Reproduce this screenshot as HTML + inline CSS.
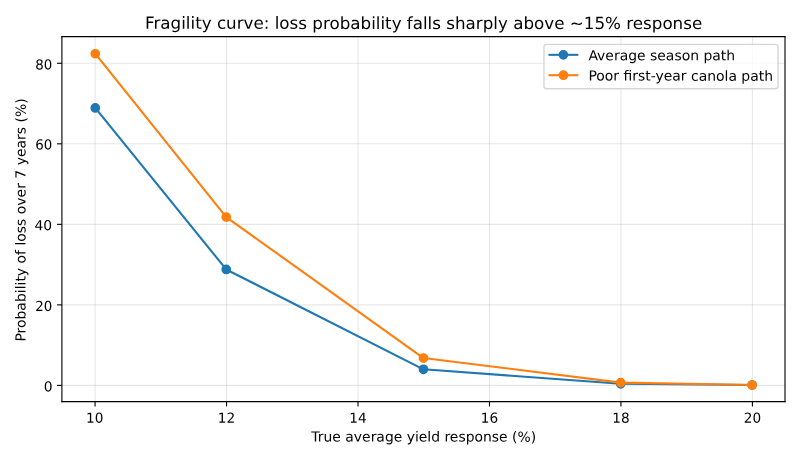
<!DOCTYPE html>
<html lang="en"><head><meta charset="utf-8"><title>Fragility curve</title>
<style>html,body{margin:0;padding:0;background:#fff;overflow:hidden}svg{display:block}</style>
</head><body>
<svg width="800" height="460" viewBox="0 0 576 331.2" role="img" aria-label="Fragility curve line chart">
 <defs>
  <style type="text/css">*{stroke-linejoin: round; stroke-linecap: butt}</style>
 </defs>
 <g id="figure_1">
  <g id="patch_1">
   <path d="M 0 331.2 
L 576 331.2 
L 576 0 
L 0 0 
z
" style="fill: #ffffff"/>
  </g>
  <g id="axes_1">
   <g id="patch_2">
    <path d="M 44.57 289.152 
L 565.2 289.152 
L 565.2 26.3736 
L 44.57 26.3736 
z
" style="fill: #ffffff"/>
   </g>
   <g id="matplotlib.axis_1" transform="translate(0.2160 0)">
    <g id="xtick_1">
     <g id="line2d_1">
      <path d="M 68.235 289.152 
L 68.235 26.3736 
" clip-path="url(#p6f39fc8fb3)" style="fill: none; stroke: #b0b0b0; stroke-opacity: 0.3; stroke-width: 0.8; stroke-linecap: square"/>
     </g>
     <g id="line2d_2">
      <defs>
       <path id="m7b24b1759d" d="M 0 0 
L 0 3.5 
" style="stroke: #000000; stroke-width: 0.8"/>
      </defs>
      <g>
       <use href="#m7b24b1759d" x="68.235" y="289.152" style="stroke: #000000; stroke-width: 0.8"/>
      </g>
     </g>
     <g id="text_1">
      <text style="font-size: 10px; font-family: 'DejaVu Sans', 'Liberation Sans', sans-serif; text-anchor: middle" x="68.019" y="304.434" transform="rotate(0.04 68.019 304.434) translate(68.019 304.434) scale(0.98 1) translate(-68.019 -304.434)">10</text>
     </g>
    </g>
    <g id="xtick_2">
     <g id="line2d_3">
      <path d="M 162.895 289.152 
L 162.895 26.3736 
" clip-path="url(#p6f39fc8fb3)" style="fill: none; stroke: #b0b0b0; stroke-opacity: 0.3; stroke-width: 0.8; stroke-linecap: square"/>
     </g>
     <g id="line2d_4">
      <g>
       <use href="#m7b24b1759d" x="162.895" y="289.152" style="stroke: #000000; stroke-width: 0.8"/>
      </g>
     </g>
     <g id="text_2">
      <text style="font-size: 10px; font-family: 'DejaVu Sans', 'Liberation Sans', sans-serif; text-anchor: middle" x="162.895" y="304.434" transform="rotate(0.04 162.895 304.434) translate(162.895 304.434) scale(0.98 1) translate(-162.895 -304.434)">12</text>
     </g>
    </g>
    <g id="xtick_3">
     <g id="line2d_5">
      <path d="M 257.555 289.152 
L 257.555 26.3736 
" clip-path="url(#p6f39fc8fb3)" style="fill: none; stroke: #b0b0b0; stroke-opacity: 0.3; stroke-width: 0.8; stroke-linecap: square"/>
     </g>
     <g id="line2d_6">
      <g>
       <use href="#m7b24b1759d" x="257.555" y="289.152" style="stroke: #000000; stroke-width: 0.8"/>
      </g>
     </g>
     <g id="text_3">
      <text style="font-size: 10px; font-family: 'DejaVu Sans', 'Liberation Sans', sans-serif; text-anchor: middle" x="257.555" y="304.434" transform="rotate(0.04 257.555 304.434) translate(257.555 304.434) scale(0.98 1) translate(-257.555 -304.434)">14</text>
     </g>
    </g>
    <g id="xtick_4">
     <g id="line2d_7">
      <path d="M 352.215 289.152 
L 352.215 26.3736 
" clip-path="url(#p6f39fc8fb3)" style="fill: none; stroke: #b0b0b0; stroke-opacity: 0.3; stroke-width: 0.8; stroke-linecap: square"/>
     </g>
     <g id="line2d_8">
      <g>
       <use href="#m7b24b1759d" x="352.215" y="289.152" style="stroke: #000000; stroke-width: 0.8"/>
      </g>
     </g>
     <g id="text_4">
      <text style="font-size: 10px; font-family: 'DejaVu Sans', 'Liberation Sans', sans-serif; text-anchor: middle" x="352.215" y="304.434" transform="rotate(0.04 352.215 304.434) translate(352.215 304.434) scale(0.98 1) translate(-352.215 -304.434)">16</text>
     </g>
    </g>
    <g id="xtick_5">
     <g id="line2d_9">
      <path d="M 446.875 289.152 
L 446.875 26.3736 
" clip-path="url(#p6f39fc8fb3)" style="fill: none; stroke: #b0b0b0; stroke-opacity: 0.3; stroke-width: 0.8; stroke-linecap: square"/>
     </g>
     <g id="line2d_10">
      <g>
       <use href="#m7b24b1759d" x="446.875" y="289.152" style="stroke: #000000; stroke-width: 0.8"/>
      </g>
     </g>
     <g id="text_5">
      <text style="font-size: 10px; font-family: 'DejaVu Sans', 'Liberation Sans', sans-serif; text-anchor: middle" x="446.875" y="304.434" transform="rotate(0.04 446.875 304.434) translate(446.875 304.434) scale(0.98 1) translate(-446.875 -304.434)">18</text>
     </g>
    </g>
    <g id="xtick_6">
     <g id="line2d_11">
      <path d="M 541.535 289.152 
L 541.535 26.3736 
" clip-path="url(#p6f39fc8fb3)" style="fill: none; stroke: #b0b0b0; stroke-opacity: 0.3; stroke-width: 0.8; stroke-linecap: square"/>
     </g>
     <g id="line2d_12">
      <g>
       <use href="#m7b24b1759d" x="541.535" y="289.152" style="stroke: #000000; stroke-width: 0.8"/>
      </g>
     </g>
     <g id="text_6">
      <text style="font-size: 10px; font-family: 'DejaVu Sans', 'Liberation Sans', sans-serif; text-anchor: middle" x="541.535" y="304.434" transform="rotate(0.04 541.535 304.434) translate(541.535 304.434) scale(0.98 1) translate(-541.535 -304.434)">20</text>
     </g>
    </g>
    <g id="text_7">
     <text style="font-size: 10px; font-family: 'DejaVu Sans', 'Liberation Sans', sans-serif; text-anchor: middle" x="304.885" y="317.933" transform="rotate(0.04 304.885 317.933) translate(304.885 317.933) scale(1.0027 1) translate(-304.885 -317.933)">True average yield response (%)</text>
    </g>
   </g>
   <g id="matplotlib.axis_2">
    <g id="ytick_1">
     <g id="line2d_13">
      <path d="M 44.57 277.497442 
L 565.2 277.497442 
" clip-path="url(#p6f39fc8fb3)" style="fill: none; stroke: #b0b0b0; stroke-opacity: 0.3; stroke-width: 0.8; stroke-linecap: square"/>
     </g>
     <g id="line2d_14">
      <defs>
       <path id="mdc6f3830b2" d="M 0 0 
L -3.5 0 
" style="stroke: #000000; stroke-width: 0.8"/>
      </defs>
      <g>
       <use href="#mdc6f3830b2" x="44.57" y="277.497442" style="stroke: #000000; stroke-width: 0.8"/>
      </g>
     </g>
     <g id="text_8">
      <text style="font-size: 10px; font-family: 'DejaVu Sans', 'Liberation Sans', sans-serif; text-anchor: end" x="37.894" y="281.916" transform="rotate(0.04 37.894 281.916)">0</text>
     </g>
    </g>
    <g id="ytick_2">
     <g id="line2d_15">
      <path d="M 44.57 219.514564 
L 565.2 219.514564 
" clip-path="url(#p6f39fc8fb3)" style="fill: none; stroke: #b0b0b0; stroke-opacity: 0.3; stroke-width: 0.8; stroke-linecap: square"/>
     </g>
     <g id="line2d_16">
      <g>
       <use href="#mdc6f3830b2" x="44.57" y="219.514564" style="stroke: #000000; stroke-width: 0.8"/>
      </g>
     </g>
     <g id="text_9">
      <text style="font-size: 10px; font-family: 'DejaVu Sans', 'Liberation Sans', sans-serif; text-anchor: end" x="37.570" y="223.875" transform="rotate(0.04 37.570 223.875) translate(37.570 223.875) scale(0.965 1) translate(-37.570 -223.875)">20</text>
     </g>
    </g>
    <g id="ytick_3">
     <g id="line2d_17">
      <path d="M 44.57 161.531687 
L 565.2 161.531687 
" clip-path="url(#p6f39fc8fb3)" style="fill: none; stroke: #b0b0b0; stroke-opacity: 0.3; stroke-width: 0.8; stroke-linecap: square"/>
     </g>
     <g id="line2d_18">
      <g>
       <use href="#mdc6f3830b2" x="44.57" y="161.531687" style="stroke: #000000; stroke-width: 0.8"/>
      </g>
     </g>
     <g id="text_10">
      <text style="font-size: 10px; font-family: 'DejaVu Sans', 'Liberation Sans', sans-serif; text-anchor: end" x="37.570" y="165.785" transform="rotate(0.04 37.570 165.785)">40</text>
     </g>
    </g>
    <g id="ytick_4">
     <g id="line2d_19">
      <path d="M 44.57 103.54881 
L 565.2 103.54881 
" clip-path="url(#p6f39fc8fb3)" style="fill: none; stroke: #b0b0b0; stroke-opacity: 0.3; stroke-width: 0.8; stroke-linecap: square"/>
     </g>
     <g id="line2d_20">
      <g>
       <use href="#mdc6f3830b2" x="44.57" y="103.54881" style="stroke: #000000; stroke-width: 0.8"/>
      </g>
     </g>
     <g id="text_11">
      <text style="font-size: 10px; font-family: 'DejaVu Sans', 'Liberation Sans', sans-serif; text-anchor: end" x="37.570" y="107.730" transform="rotate(0.04 37.570 107.730) translate(37.570 107.730) scale(0.965 1) translate(-37.570 -107.730)">60</text>
     </g>
    </g>
    <g id="ytick_5">
     <g id="line2d_21">
      <path d="M 44.57 45.565932 
L 565.2 45.565932 
" clip-path="url(#p6f39fc8fb3)" style="fill: none; stroke: #b0b0b0; stroke-opacity: 0.3; stroke-width: 0.8; stroke-linecap: square"/>
     </g>
     <g id="line2d_22">
      <g>
       <use href="#mdc6f3830b2" x="44.57" y="45.565932" style="stroke: #000000; stroke-width: 0.8"/>
      </g>
     </g>
     <g id="text_12">
      <text style="font-size: 10px; font-family: 'DejaVu Sans', 'Liberation Sans', sans-serif; text-anchor: end" x="37.570" y="50.071" transform="rotate(0.04 37.570 50.071) translate(37.570 50.071) scale(0.965 1) translate(-37.570 -50.071)">80</text>
     </g>
    </g>
    <g id="text_13">
     <text style="font-size: 10px; font-family: 'DejaVu Sans', 'Liberation Sans', sans-serif; text-anchor: middle" x="18.405" y="158.411" transform="rotate(-89.95 18.405 158.411) translate(18.405 158.411) scale(1.0058 1) translate(-18.405 -158.411)">Probability of loss over 7 years (%)</text>
    </g>
   </g>
   <g id="line2d_23">
    <path d="M 68.61364 77.717438 
L 162.895 194.002098 
L 304.885 265.900866 
L 446.875 276.337784 
L 541.535 277.207527 
" clip-path="url(#p6f39fc8fb3)" style="fill: none; stroke: #1f77b4; stroke-width: 1.5; stroke-linecap: square"/>
    <defs>
     <path id="m4cd309800b" d="M 0 3 
C 0.795609 3 1.55874 2.683901 2.12132 2.12132 
C 2.683901 1.55874 3 0.795609 3 0 
C 3 -0.795609 2.683901 -1.55874 2.12132 -2.12132 
C 1.55874 -2.683901 0.795609 -3 0 -3 
C -0.795609 -3 -1.55874 -2.683901 -2.12132 -2.12132 
C -2.683901 -1.55874 -3 -0.795609 -3 0 
C -3 0.795609 -2.683901 1.55874 -2.12132 2.12132 
C -1.55874 2.683901 -0.795609 3 0 3 
z
" style="stroke: #1f77b4"/>
    </defs>
    <g clip-path="url(#p6f39fc8fb3)">
     <use href="#m4cd309800b" x="68.61364" y="77.717438" style="fill: #1f77b4; stroke: #1f77b4"/>
     <use href="#m4cd309800b" x="162.895" y="194.002098" style="fill: #1f77b4; stroke: #1f77b4"/>
     <use href="#m4cd309800b" x="304.885" y="265.900866" style="fill: #1f77b4; stroke: #1f77b4"/>
     <use href="#m4cd309800b" x="446.875" y="276.337784" style="fill: #1f77b4; stroke: #1f77b4"/>
     <use href="#m4cd309800b" x="541.535" y="277.207527" style="fill: #1f77b4; stroke: #1f77b4"/>
    </g>
   </g>
   <g id="line2d_24">
    <path d="M 68.61364 38.694961 
L 162.895 156.313228 
L 304.885 257.783263 
L 446.875 275.468041 
L 541.535 277.207527 
" clip-path="url(#p6f39fc8fb3)" style="fill: none; stroke: #ff7f0e; stroke-width: 1.5; stroke-linecap: square"/>
    <defs>
     <path id="m40b9cac848" d="M 0 3 
C 0.795609 3 1.55874 2.683901 2.12132 2.12132 
C 2.683901 1.55874 3 0.795609 3 0 
C 3 -0.795609 2.683901 -1.55874 2.12132 -2.12132 
C 1.55874 -2.683901 0.795609 -3 0 -3 
C -0.795609 -3 -1.55874 -2.683901 -2.12132 -2.12132 
C -2.683901 -1.55874 -3 -0.795609 -3 0 
C -3 0.795609 -2.683901 1.55874 -2.12132 2.12132 
C -1.55874 2.683901 -0.795609 3 0 3 
z
" style="stroke: #ff7f0e"/>
    </defs>
    <g clip-path="url(#p6f39fc8fb3)">
     <use href="#m40b9cac848" x="68.61364" y="38.694961" style="fill: #ff7f0e; stroke: #ff7f0e"/>
     <use href="#m40b9cac848" x="162.895" y="156.313228" style="fill: #ff7f0e; stroke: #ff7f0e"/>
     <use href="#m40b9cac848" x="304.885" y="257.783263" style="fill: #ff7f0e; stroke: #ff7f0e"/>
     <use href="#m40b9cac848" x="446.875" y="275.468041" style="fill: #ff7f0e; stroke: #ff7f0e"/>
     <use href="#m40b9cac848" x="541.535" y="277.207527" style="fill: #ff7f0e; stroke: #ff7f0e"/>
    </g>
   </g>
   <g id="patch_3">
    <path d="M 44.57 289.152 
L 44.57 26.3736 
" style="fill: none; stroke: #000000; stroke-width: 0.8; stroke-linejoin: miter; stroke-linecap: square"/>
   </g>
   <g id="patch_4">
    <path d="M 565.2 289.152 
L 565.2 26.3736 
" style="fill: none; stroke: #000000; stroke-width: 0.8; stroke-linejoin: miter; stroke-linecap: square"/>
   </g>
   <g id="patch_5">
    <path d="M 44.57 289.152 
L 565.2 289.152 
" style="fill: none; stroke: #000000; stroke-width: 0.8; stroke-linejoin: miter; stroke-linecap: square"/>
   </g>
   <g id="patch_6">
    <path d="M 44.57 26.3736 
L 565.2 26.3736 
" style="fill: none; stroke: #000000; stroke-width: 0.8; stroke-linejoin: miter; stroke-linecap: square"/>
   </g>
   <g id="text_14">
    <text style="font-size: 12px; font-family: 'DejaVu Sans', 'Liberation Sans', sans-serif; text-anchor: middle" x="305.029" y="20.842" transform="rotate(0.03 305.029 20.842) translate(305.029 20.842) scale(1.004 1) translate(-305.029 -20.842)">Fragility curve: loss probability falls sharply above ~15% response</text>
   </g>
   <g id="legend_1">
    <g id="patch_7">
     <path d="M 393.6438 63.8738 
L 558.2000 63.8738 
Q 560.2000 63.8738 560.2000 61.9006 
L 560.2000 33.9229 
Q 560.2000 31.9496 558.2000 31.9496 
L 393.6438 31.9496 
Q 391.6438 31.9496 391.6438 33.9229 
L 391.6438 61.9006 
Q 391.6438 63.8738 393.6438 63.8738 
z
" style="fill: #ffffff; opacity: 0.8; stroke: #cccccc; stroke-linejoin: miter"/>
    </g>
    <g id="line2d_25">
     <path d="M 395.64375 39.472037 
L 405.64375 39.472037 
L 415.64375 39.472037 
" style="fill: none; stroke: #1f77b4; stroke-width: 1.5; stroke-linecap: square"/>
     <g>
      <use href="#m4cd309800b" x="405.64375" y="39.472037" style="fill: #1f77b4; stroke: #1f77b4"/>
     </g>
    </g>
    <g id="text_15">
     <text style="font-size: 10px; font-family: 'DejaVu Sans', 'Liberation Sans', sans-serif; text-anchor: start" x="423.644" y="43.332" transform="rotate(0.04 423.644 43.332) translate(423.644 43.332) scale(1.0035 1) translate(-423.644 -43.332)">Average season path</text>
    </g>
    <g id="line2d_26">
     <path d="M 395.64375 54.150163 
L 405.64375 54.150163 
L 415.64375 54.150163 
" style="fill: none; stroke: #ff7f0e; stroke-width: 1.5; stroke-linecap: square"/>
     <g>
      <use href="#m40b9cac848" x="405.64375" y="54.150163" style="fill: #ff7f0e; stroke: #ff7f0e"/>
     </g>
    </g>
    <g id="text_16">
     <text style="font-size: 10px; font-family: 'DejaVu Sans', 'Liberation Sans', sans-serif; text-anchor: start" x="423.644" y="58.010" transform="rotate(0.04 423.644 58.010) translate(423.644 58.010) scale(1.0033 1) translate(-423.644 -58.010)">Poor first-year canola path</text>
    </g>
   </g>
  </g>
 </g>
 <defs>
  <clipPath id="p6f39fc8fb3">
   <rect x="44.57" y="26.3736" width="520.63" height="262.7784"/>
  </clipPath>
 </defs>
</svg>

</body></html>
